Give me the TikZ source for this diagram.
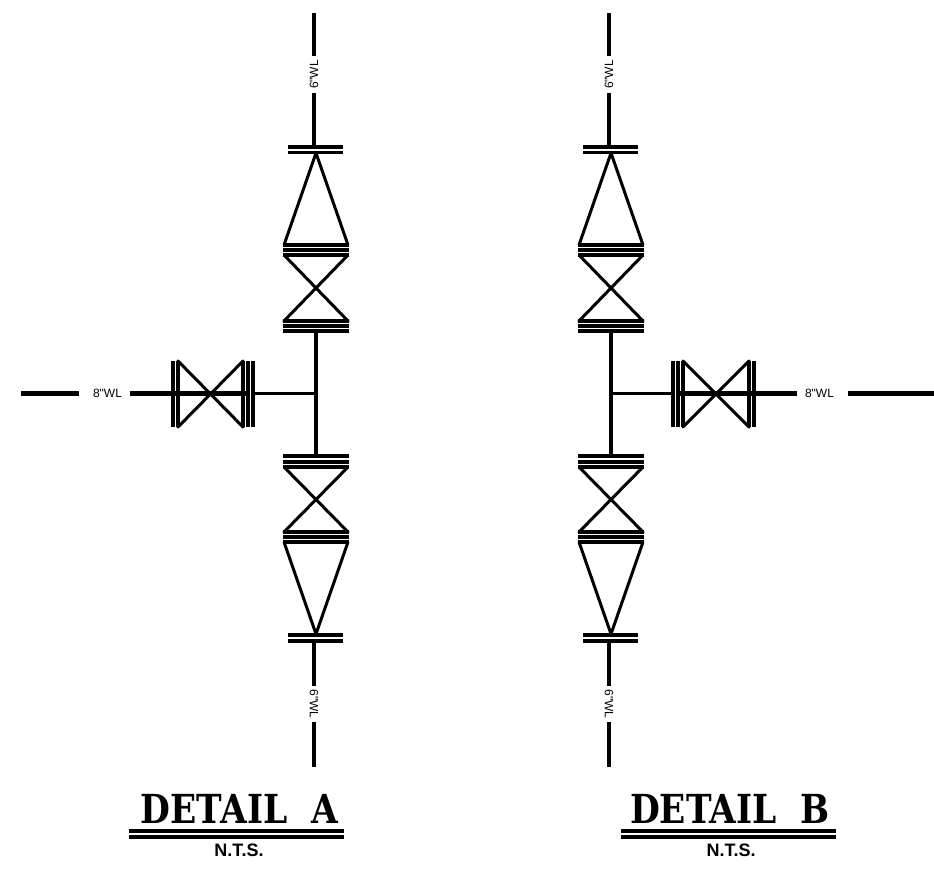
\documentclass[tikz,border=0pt]{standalone}
\usepackage{fontspec}
\newfontfamily\labelfont{Liberation Sans}
\newfontfamily\titlefont{DejaVu Serif}
\usetikzlibrary{positioning}
\tikzset{pipe/.style={line width=3.1pt},
  riser/.style={line width=3.1pt},
  thick pipe/.style={line width=4.2pt},
  valve/.style={line width=3pt,line join=round},
  wl/.style={font=\labelfont\fontsize{12}{12}\selectfont,inner sep=3.5pt},
  title/.style={font=\titlefont\bfseries\fontsize{40}{40}\selectfont,inner sep=0pt},
  nts/.style={font=\labelfont\bfseries\fontsize{18}{18}\selectfont,inner sep=0pt}}
\begin{document}
\begin{tikzpicture}[x=1pt,y=-1pt]
\useasboundingbox (0,0) rectangle (934,876);
% vertical run, the same in both details
\foreach \o in {0,295} {
\begin{scope}[xshift=\o pt]
\node[wl,rotate=90] (topwl\o) at (314,74.5) {6"WL};
\node[wl,rotate=-90] (botwl\o) at (314,704) {6"WL};
\draw[riser] (314,13) -- (topwl\o);
\draw[riser] (topwl\o) -- (314,147);
\draw[riser] (314,641) -- (botwl\o);
\draw[riser] (botwl\o) -- (314,767);
\draw[riser] (316,331) -- (316,456);
\draw[pipe] (288,147) -- (343,147) (288,152.5) -- (343,152.5);
\draw[pipe] (288,635) -- (343,635) (288,641) -- (343,641);
% upper reducer and valve
\draw[valve] (284,245) -- (316,153) -- (348,245);
\draw[pipe] (283,245) -- (349,245) (283,250) -- (349,250) (283,255) -- (349,255);
\draw[valve] (284,255) -- (348,321) -- (284,321) -- (348,255);
\draw[valve] (284,255) -- (348,255);
\draw[pipe] (283,321) -- (349,321) (283,326) -- (349,326) (283,331) -- (349,331);
% lower valve and reducer
\draw[pipe] (283,456) -- (349,456) (283,462) -- (349,462) (283,467) -- (349,467);
\draw[valve] (284,467) -- (348,532) -- (284,532) -- (348,467);
\draw[pipe] (283,532) -- (349,532) (283,537) -- (349,537) (283,542) -- (349,542);
\draw[valve] (284,542) -- (316,634) -- (348,542);
\end{scope}
}
% branch of detail A
\node[wl] (wla) at (107.5,393.5) {8"WL};
\draw[thick pipe,shorten >=10pt] (21,393.5) -- (wla);
\draw[thick pipe,shorten <=4pt] (wla) -- (248,393.5);
\draw[line width=2.6pt] (253,393.5) -- (316,393.5);
\draw[pipe] (173,361) -- (173,427) (178,361) -- (178,427);
\draw[valve] (178,361) -- (243,427) -- (243,361) -- (178,427) -- cycle;
\draw[pipe] (243,361) -- (243,427) (248,361) -- (248,427) (253,361) -- (253,427);
% branch of detail B
\node[wl] (wlb) at (819.5,393.5) {8"WL};
\draw[thick pipe,shorten >=10pt] (934,393.5) -- (wlb);
\draw[thick pipe,shorten <=4pt] (wlb) -- (678,393.5);
\draw[line width=2.6pt] (673,393.5) -- (611,393.5);
\draw[pipe] (673,361) -- (673,427) (678,361) -- (678,427) (683,361) -- (683,427);
\draw[valve] (683,361) -- (749,427) -- (749,361) -- (683,427) -- cycle;
\draw[pipe] (749,361) -- (749,427) (754,361) -- (754,427);
% titles
\node[title] (deta) at (239.5,808.5) {\scalebox{0.86}[1]{DETAIL\ \ A}};
\node[title] (detb) at (730,808.5) {\scalebox{0.86}[1]{DETAIL\ \ B}};
\draw[pipe] (129,831) -- (344,831) (129,837) -- (344,837);
\draw[pipe] (621,831) -- (836,831) (621,837) -- (836,837);
\node[nts] (ntsa) at (239,850) {N.T.S.};
\node[nts] (ntsb) at (731,850) {N.T.S.};
\end{tikzpicture}
\end{document}
